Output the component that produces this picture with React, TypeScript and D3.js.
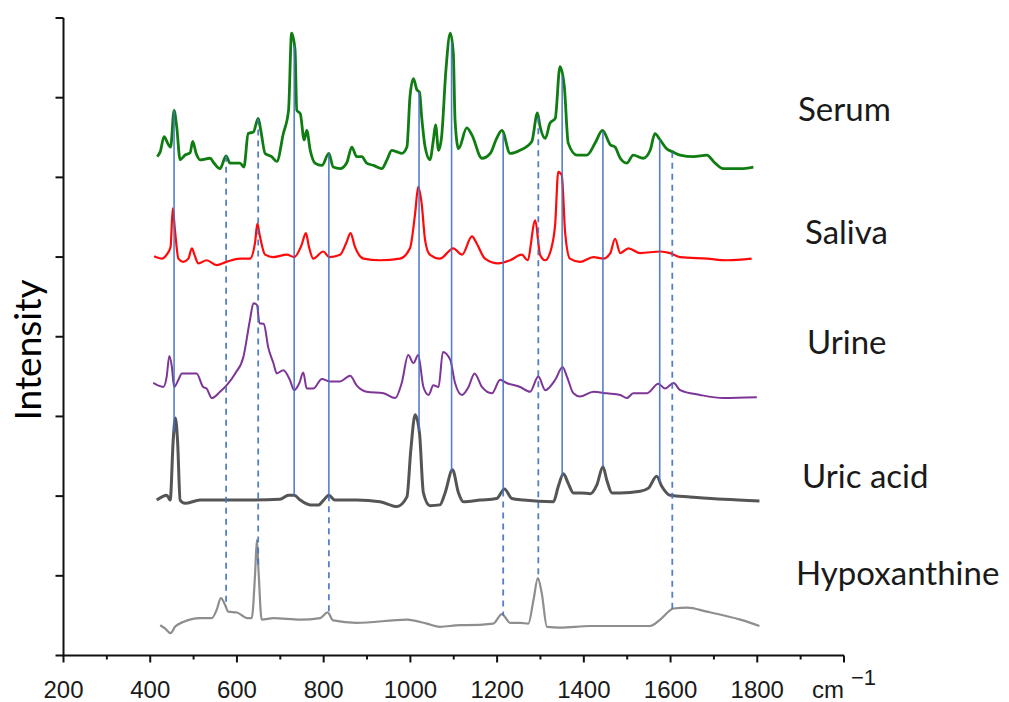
import React from "react";
import * as d3 from "d3";

type Pt = [number, number];

// wavenumber (cm-1), intensity (stacked, arbitrary units)
const serum: Pt[] = [
  [416, 6.26], [423, 6.32], [432, 6.51], [442, 6.41], [447, 6.38], [455, 6.84], [461, 6.64],
  [469, 6.22], [480, 6.28], [492, 6.31], [498, 6.45], [506, 6.3], [515, 6.22], [538, 6.24],
  [547, 6.18], [561, 6.11], [575, 6.27], [584, 6.18], [607, 6.18], [616, 6.13], [626, 6.55],
  [638, 6.57], [649, 6.74], [655, 6.59], [665, 6.3], [680, 6.26], [692, 6.2], [707, 6.55],
  [719, 6.84], [726, 7.81], [734, 7.6], [738, 6.84], [746, 6.8], [755, 6.47], [761, 6.59],
  [769, 6.34], [780, 6.18], [796, 6.15], [812, 6.3], [822, 6.13], [838, 6.11], [853, 6.18],
  [865, 6.38], [876, 6.26], [888, 6.26], [899, 6.18], [915, 6.15], [934, 6.11], [946, 6.22],
  [957, 6.34], [969, 6.32], [980, 6.3], [992, 6.38], [999, 7.01], [1007, 7.24], [1015, 7.1],
  [1021, 7.07], [1026, 6.76], [1034, 6.38], [1045, 6.22], [1053, 6.47], [1058, 6.66],
  [1065, 6.34], [1072, 6.51], [1082, 7.35], [1092, 7.81], [1099, 7.56], [1103, 6.72],
  [1111, 6.36], [1130, 6.62], [1142, 6.53], [1165, 6.24], [1184, 6.3], [1199, 6.49],
  [1211, 6.59], [1230, 6.3], [1253, 6.34], [1280, 6.45], [1293, 6.81], [1299, 6.64],
  [1311, 6.49], [1322, 6.68], [1334, 6.74], [1345, 7.39], [1355, 7.14], [1364, 6.43],
  [1384, 6.28], [1407, 6.28], [1426, 6.43], [1443, 6.59], [1461, 6.41], [1472, 6.38],
  [1484, 6.24], [1499, 6.18], [1514, 6.28], [1537, 6.24], [1553, 6.34], [1564, 6.55],
  [1576, 6.47], [1591, 6.36], [1605, 6.32], [1622, 6.28], [1653, 6.26], [1684, 6.28],
  [1699, 6.2], [1722, 6.11], [1761, 6.11], [1791, 6.13],
];

const saliva: Pt[] = [
  [409, 5.01], [427, 4.98], [438, 5.03], [447, 5.13], [452, 5.61], [457, 5.34], [465, 4.98],
  [476, 4.94], [488, 4.98], [496, 5.11], [502, 5.03], [511, 4.92], [530, 4.96], [553, 4.9],
  [576, 4.94], [607, 4.98], [630, 4.98], [642, 5.19], [647, 5.42], [653, 5.26], [665, 5.03],
  [684, 5.0], [715, 5.03], [732, 5.0], [749, 5.15], [759, 5.3], [766, 5.13], [776, 4.98],
  [799, 5.07], [813, 5.0], [838, 5.03], [853, 5.19], [862, 5.3], [872, 5.13], [892, 4.98],
  [930, 4.96], [976, 4.98], [999, 5.11], [1011, 5.55], [1018, 5.88], [1026, 5.67],
  [1034, 5.21], [1045, 5.03], [1068, 4.98], [1099, 5.11], [1119, 5.03], [1142, 5.26],
  [1153, 5.17], [1172, 4.98], [1203, 4.92], [1230, 4.96], [1257, 5.03], [1270, 4.96],
  [1288, 5.46], [1299, 5.03], [1311, 4.96], [1326, 5.13], [1334, 5.42], [1341, 6.07],
  [1349, 6.03], [1357, 5.3], [1368, 4.98], [1391, 4.94], [1422, 5.0], [1445, 4.98],
  [1461, 5.05], [1472, 5.23], [1484, 5.05], [1503, 5.11], [1530, 5.05], [1576, 5.07],
  [1599, 5.05], [1622, 5.0], [1684, 4.98], [1730, 4.96], [1787, 4.98],
];

const urine: Pt[] = [
  [407, 3.42], [430, 3.37], [438, 3.5], [444, 3.76], [450, 3.62], [455, 3.37], [465, 3.46],
  [473, 3.54], [507, 3.54], [522, 3.37], [530, 3.35], [542, 3.23], [561, 3.31], [576, 3.39],
  [596, 3.54], [615, 3.75], [630, 4.21], [638, 4.42], [646, 4.4], [652, 4.17], [662, 4.16],
  [672, 3.87], [684, 3.67], [692, 3.54], [707, 3.58], [722, 3.46], [732, 3.33], [744, 3.42],
  [753, 3.55], [761, 3.35], [776, 3.35], [796, 3.47], [813, 3.44], [838, 3.44], [861, 3.51],
  [876, 3.39], [899, 3.31], [938, 3.29], [965, 3.23], [980, 3.42], [995, 3.77], [1007, 3.67],
  [1018, 3.77], [1030, 3.37], [1042, 3.27], [1053, 3.39], [1065, 3.37], [1075, 3.81],
  [1092, 3.71], [1103, 3.42], [1119, 3.27], [1134, 3.37], [1148, 3.54], [1165, 3.37],
  [1188, 3.29], [1207, 3.46], [1222, 3.42], [1253, 3.37], [1276, 3.31], [1295, 3.5],
  [1311, 3.33], [1334, 3.46], [1351, 3.62], [1361, 3.5], [1376, 3.29], [1391, 3.25],
  [1422, 3.31], [1453, 3.29], [1484, 3.27], [1499, 3.23], [1514, 3.29], [1545, 3.29],
  [1572, 3.41], [1587, 3.35], [1607, 3.42], [1622, 3.33], [1668, 3.27], [1722, 3.23],
  [1799, 3.24],
];

const uricAcid: Pt[] = [
  [415, 1.95], [427, 1.99], [438, 2.01], [446, 1.95], [453, 2.7], [458, 2.98], [463, 2.7],
  [469, 1.95], [480, 1.91], [515, 1.95], [607, 1.95], [699, 1.96], [719, 2.01], [732, 2.01],
  [746, 1.95], [769, 1.89], [788, 1.89], [803, 1.97], [812, 2.01], [826, 1.95], [876, 1.95],
  [930, 1.93], [969, 1.87], [992, 1.99], [1001, 2.58], [1011, 3.02], [1021, 2.79],
  [1030, 2.04], [1045, 1.88], [1068, 1.89], [1080, 2.04], [1097, 2.33], [1111, 2.04],
  [1122, 1.93], [1161, 1.95], [1199, 1.97], [1217, 2.09], [1234, 1.97], [1261, 1.95],
  [1330, 1.93], [1341, 2.12], [1353, 2.28], [1364, 2.16], [1376, 2.04], [1395, 2.04],
  [1415, 2.03], [1430, 2.14], [1444, 2.37], [1453, 2.2], [1465, 2.04], [1484, 2.04],
  [1530, 2.06], [1549, 2.1], [1568, 2.25], [1580, 2.12], [1599, 2.01], [1645, 1.99],
  [1722, 1.96], [1805, 1.94],
];

const hypoxanthine: Pt[] = [
  [423, 0.38], [434, 0.34], [447, 0.28], [457, 0.36], [476, 0.42], [515, 0.47], [542, 0.47],
  [553, 0.57], [563, 0.72], [573, 0.63], [580, 0.55], [600, 0.54], [623, 0.47], [634, 0.47],
  [642, 1.04], [646, 1.45], [650, 1.04], [657, 0.45], [684, 0.47], [746, 0.45], [792, 0.47],
  [809, 0.54], [822, 0.44], [876, 0.41], [992, 0.45], [1038, 0.4], [1068, 0.36], [1115, 0.38],
  [1130, 0.38], [1191, 0.4], [1211, 0.52], [1230, 0.41], [1253, 0.41], [1272, 0.4],
  [1284, 0.7], [1294, 0.97], [1303, 0.78], [1315, 0.36], [1345, 0.35], [1415, 0.37],
  [1499, 0.37], [1553, 0.37], [1576, 0.45], [1607, 0.59], [1638, 0.6], [1684, 0.55],
  [1761, 0.45], [1805, 0.37],
];

const seriesNames = ["Serum", "Saliva", "Urine", "Uric acid", "Hypoxanthine"];
const seriesData = [serum, saliva, urine, uricAcid, hypoxanthine];
const seriesColors = ["#0f7d12", "#ff0a0a", "#7d3596", "#555555", "#8e8e8e"];

// marker lines (cm-1)
const solidToUric = [455, 732, 1020, 1095, 1350, 1444, 1575];
const solidThenDashed = [812, 1214];
const dashedToHypo = [575, 649, 1295, 1604];

const xTicksMajor = [200, 400, 600, 800, 1000, 1200, 1400, 1600, 1800, 2000];
const xTicksMinor = [300, 500, 700, 900, 1100, 1300, 1500, 1700, 1900];
const yTicks = [0, 1, 2, 3, 4, 5, 6, 7, 8];

const W = 1009;
const H = 702;

const x = d3.scaleLinear().domain([200, 2000]).range([63.5, 844]);
const y = d3.scaleLinear().domain([0, 8]).range([655.5, 18]);

function valueAt(s: Pt[], w: number) {
  const i = d3.bisector((d: Pt) => d[0]).left(s, w);
  if (i <= 0) return s[0][1];
  if (i >= s.length) return s[s.length - 1][1];
  const [x0, y0] = s[i - 1];
  const [x1, y1] = s[i];
  return y0 + ((w - x0) / (x1 - x0)) * (y1 - y0);
}

const labelPos = [
  { x: 798, y: 121 },
  { x: 805, y: 244 },
  { x: 807, y: 354 },
  { x: 802, y: 488 },
  { x: 796, y: 585 },
];
const strokeWidths = [2.8, 2.2, 2, 3, 2.2];

export default function App() {
  const line = d3
    .line<Pt>()
    .x((d) => x(d[0]))
    .y((d) => y(d[1]))
    .curve(d3.curveMonotoneX);

  const blue = "#4472c4";

  return (
    <svg
      width={W}
      height={H}
      style={{ position: "absolute", left: 0, top: 0, background: "#fff" }}
    >
      {/* spectra */}
      {seriesData.map((s, i) => (
        <path
          key={seriesNames[i]}
          d={line(s) || ""}
          fill="none"
          stroke={seriesColors[i]}
          strokeWidth={strokeWidths[i]}
          strokeLinejoin="round"
        />
      ))}

      {/* marker lines */}
      {solidToUric.map((w) => (
        <line
          key={"s" + w}
          x1={x(w)}
          x2={x(w)}
          y1={y(valueAt(serum, w))}
          y2={y(valueAt(uricAcid, w))}
          stroke={blue}
          strokeWidth={1.6}
          opacity={0.9}
        />
      ))}
      {solidThenDashed.map((w) => (
        <g key={"sd" + w}>
          <line
            x1={x(w)}
            x2={x(w)}
            y1={y(valueAt(serum, w))}
            y2={y(valueAt(uricAcid, w))}
            stroke={blue}
            strokeWidth={1.6}
            opacity={0.9}
          />
          <line
            x1={x(w)}
            x2={x(w)}
            y1={y(valueAt(uricAcid, w))}
            y2={y(valueAt(hypoxanthine, w))}
            stroke={blue}
            strokeWidth={1.8}
            strokeDasharray="6 5"
            opacity={0.9}
          />
        </g>
      ))}
      {dashedToHypo.map((w) => (
        <line
          key={"d" + w}
          x1={x(w)}
          x2={x(w)}
          y1={y(valueAt(serum, w))}
          y2={y(valueAt(hypoxanthine, w))}
          stroke={blue}
          strokeWidth={1.8}
          strokeDasharray="6 5"
          opacity={0.9}
        />
      ))}

      {/* axes */}
      <g stroke="#111" strokeWidth={2}>
        <line x1={x(200)} x2={x(200)} y1={y(8)} y2={y(0)} />
        <line x1={x(200) - 1} x2={x(2000)} y1={y(0)} y2={y(0)} />
        {yTicks.map((t) => (
          <line key={"yt" + t} x1={x(200) - 8} x2={x(200)} y1={y(t)} y2={y(t)} />
        ))}
        {xTicksMajor.map((t) => (
          <line key={"xt" + t} x1={x(t)} x2={x(t)} y1={y(0)} y2={y(0) + 7} />
        ))}
        {xTicksMinor.map((t) => (
          <line key={"xm" + t} x1={x(t)} x2={x(t)} y1={y(0)} y2={y(0) + 4} />
        ))}
      </g>
      <g fontFamily="'Liberation Sans', Arial, sans-serif" fontSize={24} fill="#1a1a1a">
        {xTicksMajor.slice(0, -1).map((t) => (
          <text key={"xl" + t} x={x(t)} y={698} textAnchor="middle">
            {t}
          </text>
        ))}
        <text x={x(2000)} y={698} textAnchor="end">
          cm
        </text>
        <text x={x(2000) + 7} y={685} fontSize={22}>
          −1
        </text>
      </g>

      <text
        transform="translate(41,350) rotate(-90)"
        textAnchor="middle"
        fontFamily="Lato, 'Open Sans', sans-serif"
        fontSize={37}
        fill="#000"
      >
        Intensity
      </text>

      <g fontFamily="Lato, 'Open Sans', sans-serif" fontSize={33} fill="#1a1a1a">
        {seriesNames.map((n, i) => (
          <text key={n} x={labelPos[i].x} y={labelPos[i].y}>
            {n}
          </text>
        ))}
      </g>
    </svg>
  );
}
